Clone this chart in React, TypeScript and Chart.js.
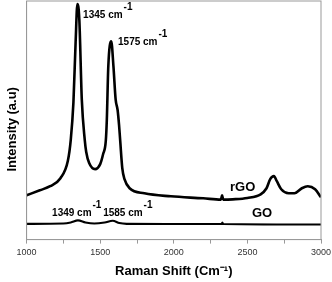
import React, { useEffect, useRef } from "react";
import { Chart, registerables } from "chart.js";

Chart.register(...registerables);

// Raman shift (cm-1) and intensity (a.u.)
const rgoShift = [1000, 1090, 1160, 1230, 1280, 1300, 1318, 1333, 1345, 1358, 1375, 1395, 1405, 1425, 1465, 1500, 1520, 1538, 1545, 1555, 1575, 1590, 1605, 1618, 1628, 1636, 1650, 1665, 1700, 1800, 1980, 2200, 2320, 2328, 2336, 2400, 2500, 2590, 2630, 2655, 2680, 2700, 2730, 2780, 2820, 2870, 2910, 2960, 3000];
const rgoIntensity = [44, 49, 53, 61, 78, 99, 136, 196, 234, 219, 139, 99, 87, 76, 70, 75, 85, 98, 119, 172, 197, 172, 139, 129, 114, 98, 71, 60, 51, 46, 43, 41, 39.7, 44, 39.7, 40, 41.3, 45, 51, 60, 63, 58, 50, 46, 46, 51, 53, 50, 42];

const goShift = [1000, 1250, 1300, 1349, 1400, 1460, 1530, 1585, 1630, 1680, 2000, 2325, 2330, 2335, 3000];
const goIntensity = [15.7, 16, 17, 19, 17, 16, 17, 18.7, 16.5, 15.7, 15.5, 15.5, 17, 15.5, 15];

const xTicks = [1000, 1500, 2000, 2500, 3000];

// annotation labels: text, superscript, anchor in data coords, font size
const labelText = ["1345 cm", "1575 cm", "1349 cm", "1585 cm", "rGO", "GO"];
const labelSup = ["-1", "-1", "-1", "-1", "", ""];
const labelShift = [1384, 1621, 1173, 1520, 2382, 2531];
const labelIntensity = [223, 196, 26, 26, 52, 26];
const labelSize = [10, 10, 10, 10, 13, 13];

export default function App() {
  const ref = useRef<HTMLCanvasElement | null>(null);
  useEffect(() => {
    if (!ref.current) return;
    const annot = {
      id: "annot",
      afterDatasetsDraw(chart: any) {
        const { ctx, chartArea, scales } = chart;
        ctx.save();
        ctx.strokeStyle = "#999";
        ctx.lineWidth = 1;
        ctx.strokeRect(chartArea.left, chartArea.top, chartArea.right - chartArea.left, chartArea.bottom - chartArea.top);
        ctx.fillStyle = "#000";
        ctx.textBaseline = "middle";
        ctx.textAlign = "left";
        for (let i = 0; i < labelText.length; i++) {
          const x = scales.x.getPixelForValue(labelShift[i]);
          const y = scales.y.getPixelForValue(labelIntensity[i]);
          ctx.font = `bold ${labelSize[i]}px "Liberation Sans", Arial, sans-serif`;
          ctx.fillText(labelText[i], x, y);
          if (labelSup[i]) {
            const w = ctx.measureText(labelText[i]).width;
            ctx.fillText(labelSup[i], x + w + 1, y - 8);
          }
        }
        ctx.restore();
      },
    };
    const chart = new Chart(ref.current, {
      type: "line",
      data: {
        datasets: [
          {
            label: "rGO",
            data: rgoShift.map((s, i) => ({ x: s, y: rgoIntensity[i] })),
            borderColor: "#000",
            borderWidth: 2.6,
            pointRadius: 0,
            cubicInterpolationMode: "monotone",
            fill: false,
          },
          {
            label: "GO",
            data: goShift.map((s, i) => ({ x: s, y: goIntensity[i] })),
            borderColor: "#000",
            borderWidth: 2.2,
            pointRadius: 0,
            cubicInterpolationMode: "monotone",
            fill: false,
          },
        ],
      },
      options: {
        animation: false,
        responsive: true,
        maintainAspectRatio: false,
        layout: { padding: { left: 3, right: 11, top: 1, bottom: 0 } },
        plugins: { legend: { display: false }, tooltip: { enabled: false } },
        scales: {
          x: {
            type: "linear",
            min: 1000,
            max: 3000,
            afterFit: (s: any) => {
              s.paddingRight = 0;
              s.paddingLeft = 0;
            },
            grid: { display: true, drawOnChartArea: false, tickLength: 4, color: "#999" },
            border: { display: true, color: "#999" },
            ticks: {
              stepSize: 250,
              autoSkip: false,
              maxRotation: 0,
              padding: 3.5,
              color: "#333",
              font: { size: 9, family: '"Liberation Sans", Arial, sans-serif' },
              callback: (v: any) => (xTicks.includes(Number(v)) ? String(v) : ""),
            },
            title: {
              display: true,
              text: "Raman Shift (Cm⁻¹)",
              color: "#000",
              font: { size: 13, weight: "bold", family: '"Liberation Sans", Arial, sans-serif' },
              padding: { top: 2, bottom: 3 },
            },
          },
          y: {
            type: "linear",
            min: 0,
            max: 237,
            grid: { display: false, drawTicks: false, tickLength: 0 },
            border: { display: true, color: "#999" },
            ticks: { display: false },
            title: {
              display: true,
              text: "Intensity (a.u)\u00A0\u00A0\u00A0\u00A0\u00A0",
              color: "#000",
              font: { size: 13, weight: "bold", family: '"Liberation Sans", Arial, sans-serif' },
              padding: { top: 2, bottom: 6 },
            },
          },
        },
      },
      plugins: [annot],
    });
    return () => chart.destroy();
  }, []);
  return (
    <div style={{ position: "fixed", left: 0, top: 0, width: 332, height: 282, background: "#fff" }}>
      <canvas ref={ref} />
    </div>
  );
}
